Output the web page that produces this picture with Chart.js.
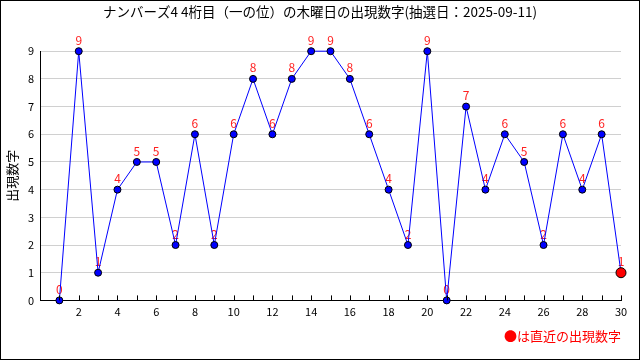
<!DOCTYPE html>
<html>
<head>
<meta charset="utf-8">
<script src="https://cdn.jsdelivr.net/npm/chart.js@4/dist/chart.umd.min.js"></script>
<style>
  html, body { margin: 0; padding: 0; background: #fff; }
  canvas { display: block; }
</style>
</head>
<body>
<canvas id="c" width="640" height="360"></canvas>
<script>
// 抽選回 (x) と出現数字 (y)
const draws = [1, 2, 3, 4, 5, 6, 7, 8, 9, 10, 11, 12, 13, 14, 15, 16, 17, 18, 19, 20, 21, 22, 23, 24, 25, 26, 27, 28, 29, 30];
const digits = [0, 9, 1, 4, 5, 5, 2, 6, 2, 6, 8, 6, 8, 9, 9, 8, 6, 4, 2, 9, 0, 7, 4, 6, 5, 2, 6, 4, 6, 1];
const yTicks = [0, 1, 2, 3, 4, 5, 6, 7, 8, 9];

const titleText = "ナンバーズ4 4桁目（一の位）の木曜日の出現数字(抽選日：2025-09-11)";
const yTitle = "出現数字";
const noteText = "●は直近の出現数字";

const FONT = "'Noto Sans CJK JP', 'DejaVu Sans', sans-serif";
const last = digits.length - 1;

const points = draws.map((x, i) => ({ x, y: digits[i] }));

// frame, y title, inward x ticks and value labels
const extras = {
  id: "extras",
  beforeDraw(chart) {
    const { ctx, width, height } = chart;
    ctx.save();
    ctx.fillStyle = "#fff";
    ctx.fillRect(0, 0, width, height);
    ctx.restore();
  },
  beforeDatasetsDraw(chart) {
    const { ctx } = chart;
    const meta = chart.getDatasetMeta(0);
    ctx.save();
    ctx.fillStyle = "#ff2020";
    ctx.font = "12px " + FONT;
    ctx.textAlign = "center";
    ctx.textBaseline = "middle";
    meta.data.forEach((pt, i) => {
      ctx.fillText(String(digits[i]), pt.x, pt.y - 11);
    });
    ctx.restore();
  },
  afterDraw(chart) {
    const { ctx, width, height, chartArea } = chart;
    const xs = chart.scales.x;
    ctx.save();
    ctx.strokeStyle = "#000";
    ctx.lineWidth = 1;
    for (let v = 1; v <= 30; v++) {
      const px = Math.round(xs.getPixelForValue(v)) + 0.5;
      ctx.beginPath();
      ctx.moveTo(px, chartArea.bottom);
      ctx.lineTo(px, chartArea.bottom - 5);
      ctx.stroke();
    }
    ctx.strokeRect(0.5, 0.5, width - 1, height - 1);

    ctx.fillStyle = "#000";
    ctx.font = "13px " + FONT;
    ctx.textAlign = "center";
    ctx.textBaseline = "middle";
    ctx.translate(12, (chartArea.top + chartArea.bottom) / 2);
    ctx.rotate(-Math.PI / 2);
    ctx.fillText(yTitle, 0, 0);
    ctx.restore();
  }
};

new Chart(document.getElementById("c"), {
  type: "line",
  data: {
    datasets: [{
      data: points,
      clip: false,
      borderColor: "#0000ff",
      borderWidth: 1,
      tension: 0,
      pointRadius: digits.map((d, i) => (i === last ? 5 : 3.5)),
      pointBackgroundColor: digits.map((d, i) => (i === last ? "#ff0000" : "#0000ff")),
      pointBorderColor: "#000",
      pointBorderWidth: 1
    }]
  },
  options: {
    responsive: false,
    animation: false,
    layout: { padding: { left: 19, right: 19, top: 0, bottom: 0 } },
    plugins: {
      legend: { display: false },
      tooltip: { enabled: false },
      title: {
        display: true,
        text: titleText,
        color: "#000",
        font: { family: FONT, size: 13.5, weight: "normal" },
        padding: { top: 4, bottom: 31 }
      },
      subtitle: {
        display: true,
        position: "bottom",
        align: "end",
        text: noteText,
        color: "#ff0000",
        font: { family: FONT, size: 13, weight: "normal" },
        padding: { top: 8, bottom: 16 }
      }
    },
    scales: {
      x: {
        type: "linear",
        min: 0,
        max: 30,
        afterFit(s) { s.height = 20; },
        ticks: {
          stepSize: 1,
          autoSkip: false,
          maxRotation: 0,
          padding: 5,
          color: "#000",
          font: { family: FONT, size: 11 },
          callback: v => (v > 0 && v % 2 === 0 ? String(v) : "")
        },
        grid: { display: true, drawOnChartArea: false, drawTicks: false },
        border: { display: true, color: "#000", width: 1 }
      },
      y: {
        min: 0,
        max: 9,
        afterFit(s) { s.width = 21; },
        afterBuildTicks(s) { s.ticks = yTicks.map(v => ({ value: v })); },
        ticks: {
          padding: 6,
          color: "#000",
          font: { family: FONT, size: 11 }
        },
        grid: { color: "#d0d0d0", drawTicks: false },
        border: { display: true, color: "#000", width: 1 }
      }
    }
  },
  plugins: [extras]
});
</script>
</body>
</html>
